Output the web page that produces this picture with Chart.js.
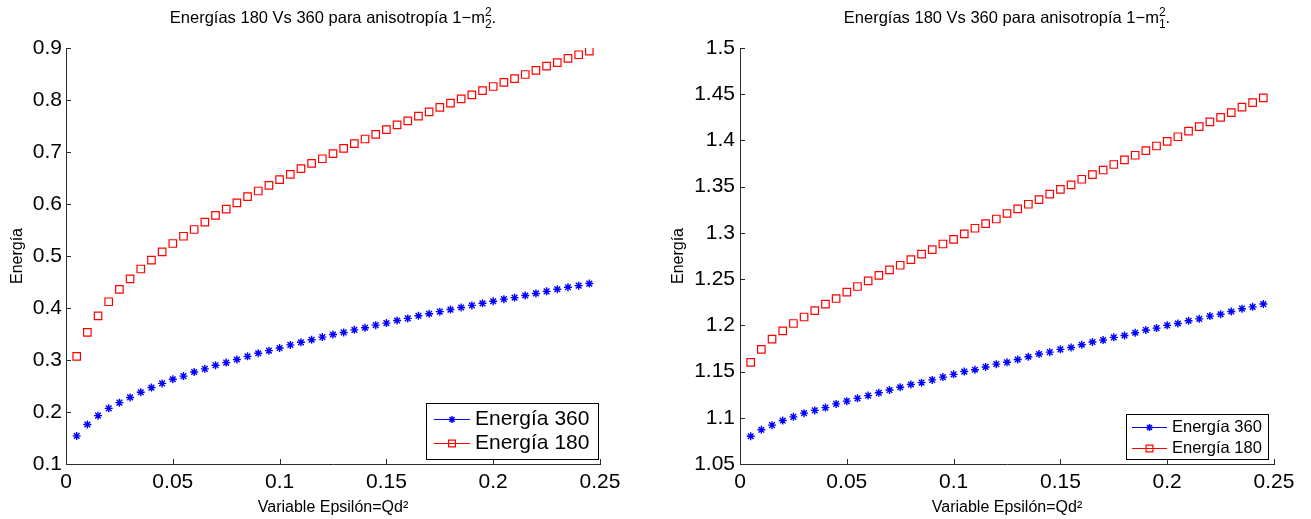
<!DOCTYPE html>
<html>
<head>
<meta charset="utf-8">
<script src="https://cdn.jsdelivr.net/npm/chart.js@4.4.0/dist/chart.umd.min.js"></script>
<style>
  html, body { margin: 0; padding: 0; background: #fff; }
  body { width: 1311px; height: 519px; position: relative; overflow: hidden; }
  .panel { position: absolute; top: 0; height: 519px; }
  #left { left: 0; width: 660px; }
  #right { left: 660px; width: 651px; }
</style>
</head>
<body>
<div class="panel" id="left"><canvas id="c1"></canvas></div>
<div class="panel" id="right"><canvas id="c2"></canvas></div>
<script>
// Variable Epsilón = Qd^2
const epsilon = [0.005, 0.010, 0.015, 0.020, 0.025, 0.030, 0.035, 0.040, 0.045, 0.050,
  0.055, 0.060, 0.065, 0.070, 0.075, 0.080, 0.085, 0.090, 0.095, 0.100,
  0.105, 0.110, 0.115, 0.120, 0.125, 0.130, 0.135, 0.140, 0.145, 0.150,
  0.155, 0.160, 0.165, 0.170, 0.175, 0.180, 0.185, 0.190, 0.195, 0.200,
  0.205, 0.210, 0.215, 0.220, 0.225, 0.230, 0.235, 0.240, 0.245];

// anisotropia 1-m2^2 (left)
const e360_m2 = [0.154, 0.176, 0.193, 0.207, 0.218, 0.228, 0.238, 0.247, 0.255, 0.263,
  0.269, 0.277, 0.283, 0.290, 0.295, 0.301, 0.307, 0.313, 0.318, 0.323,
  0.329, 0.334, 0.339, 0.344, 0.349, 0.353, 0.358, 0.362, 0.367, 0.371,
  0.376, 0.380, 0.385, 0.389, 0.393, 0.397, 0.401, 0.405, 0.409, 0.413,
  0.417, 0.420, 0.424, 0.428, 0.432, 0.436, 0.440, 0.443, 0.447];
const e180_m2 = [0.307, 0.353, 0.385, 0.412, 0.436, 0.456, 0.475, 0.492, 0.508, 0.524,
  0.538, 0.551, 0.565, 0.578, 0.590, 0.602, 0.614, 0.625, 0.636, 0.647,
  0.657, 0.668, 0.678, 0.687, 0.697, 0.707, 0.716, 0.725, 0.734, 0.743,
  0.752, 0.760, 0.769, 0.777, 0.786, 0.794, 0.802, 0.810, 0.818, 0.826,
  0.834, 0.841, 0.849, 0.857, 0.865, 0.872, 0.880, 0.887, 0.894];

// anisotropia 1-m1^2 (right)
const e360_m1 = [1.080, 1.087, 1.092, 1.097, 1.101, 1.105, 1.108, 1.111, 1.115, 1.118,
  1.121, 1.124, 1.127, 1.130, 1.133, 1.136, 1.138, 1.141, 1.144, 1.147,
  1.150, 1.152, 1.155, 1.158, 1.160, 1.163, 1.166, 1.169, 1.171, 1.174,
  1.176, 1.179, 1.182, 1.184, 1.187, 1.189, 1.192, 1.195, 1.197, 1.200,
  1.202, 1.205, 1.207, 1.210, 1.212, 1.215, 1.218, 1.220, 1.223];
const e180_m1 = [1.160, 1.174, 1.185, 1.194, 1.202, 1.209, 1.216, 1.223, 1.229, 1.236,
  1.242, 1.248, 1.254, 1.260, 1.265, 1.271, 1.277, 1.282, 1.288, 1.293,
  1.299, 1.305, 1.310, 1.315, 1.321, 1.326, 1.331, 1.336, 1.342, 1.347,
  1.352, 1.358, 1.363, 1.368, 1.374, 1.379, 1.384, 1.389, 1.394, 1.399,
  1.404, 1.410, 1.415, 1.420, 1.425, 1.430, 1.436, 1.441, 1.446];

const seriesNames = ['Energía 360', 'Energía 180'];

const xTicks = [0, 0.05, 0.1, 0.15, 0.2, 0.25];
const xTickLabels = ['0', '0.05', '0.1', '0.15', '0.2', '0.25'];
const yTicksLeft = [0.1, 0.2, 0.3, 0.4, 0.5, 0.6, 0.7, 0.8, 0.9];
const yTickLabelsLeft = ['0.1', '0.2', '0.3', '0.4', '0.5', '0.6', '0.7', '0.8', '0.9'];
const yTicksRight = [1.05, 1.1, 1.15, 1.2, 1.25, 1.3, 1.35, 1.4, 1.45, 1.5];
const yTickLabelsRight = ['1.05', '1.1', '1.15', '1.2', '1.25', '1.3', '1.35', '1.4', '1.45', '1.5'];

const FONT = '"Liberation Sans", Arial, Helvetica, sans-serif';
const AXIS = '#2b2b2b';
Chart.defaults.font.family = FONT;
Chart.defaults.color = '#000';

// matlab style ticks, pointing into the plot
const inwardTicks = {
  id: 'inwardTicks',
  afterDatasetsDraw(chart, args, o) {
    const { ctx, chartArea: a } = chart;
    const sx = chart.scales.x, sy = chart.scales.y;
    ctx.save();
    ctx.strokeStyle = AXIS;
    ctx.lineWidth = 1;
    ctx.beginPath();
    sx.ticks.forEach(t => {
      const px = Math.round(sx.getPixelForValue(t.value)) + 0.5;
      ctx.moveTo(px, a.bottom);
      ctx.lineTo(px, a.bottom - o.length);
    });
    sy.ticks.forEach(t => {
      const py = Math.round(sy.getPixelForValue(t.value)) + 0.5;
      ctx.moveTo(a.left, py);
      ctx.lineTo(a.left + o.length, py);
    });
    ctx.stroke();
    ctx.restore();
  }
};

// title with stacked super/subscript
const scriptTitle = {
  id: 'scriptTitle',
  afterDraw(chart, args, o) {
    const { ctx, chartArea: a } = chart;
    const big = o.size + 'px ' + FONT, small = o.small + 'px ' + FONT;
    ctx.save();
    ctx.fillStyle = '#000';
    ctx.textAlign = 'left';
    ctx.textBaseline = 'alphabetic';
    ctx.font = big;
    const w1 = ctx.measureText(o.text).width;
    const w3 = ctx.measureText(o.after).width;
    ctx.font = small;
    const w2 = Math.max(ctx.measureText(o.sup).width, ctx.measureText(o.sub).width);
    let x = (a.left + a.right) / 2 - (w1 + w2 + w3) / 2;
    ctx.font = big;
    ctx.fillText(o.text, x, o.y);
    x += w1;
    ctx.font = small;
    ctx.fillText(o.sup, x, o.y - o.size * 0.42);
    ctx.fillText(o.sub, x, o.y + o.size * 0.32);
    x += w2;
    ctx.font = big;
    ctx.fillText(o.after, x, o.y);
    ctx.restore();
  }
};

// boxed legend in the lower right corner
const boxLegend = {
  id: 'boxLegend',
  afterDraw(chart, args, o) {
    const { ctx, chartArea: a } = chart;
    const left = Math.round(a.right - o.right - o.width);
    const top = Math.round(a.bottom - o.bottom - o.height);
    ctx.save();
    ctx.fillStyle = '#fff';
    ctx.fillRect(left, top, o.width, o.height);
    ctx.strokeStyle = '#000';
    ctx.lineWidth = 1;
    ctx.strokeRect(left + 0.5, top + 0.5, o.width, o.height);
    ctx.font = o.fontSize + 'px ' + FONT;
    chart.data.datasets.forEach((ds, i) => {
      const cy = Math.round(top + o.rowTop + i * o.rowGap) + 0.5;
      ctx.strokeStyle = ds.borderColor;
      ctx.lineWidth = 1;
      ctx.beginPath();
      ctx.moveTo(left + o.lineStart, cy);
      ctx.lineTo(left + o.lineStart + o.lineLen, cy);
      ctx.stroke();
      ctx.fillStyle = ds.backgroundColor;
      ctx.lineWidth = ds.borderWidth;
      Chart.helpers.drawPoint(ctx, { pointStyle: ds.pointStyle, radius: ds.pointRadius - 0.5, borderWidth: ds.borderWidth, rotation: 0 },
        left + o.lineStart + o.lineLen / 2, cy);
      ctx.fillStyle = '#000';
      ctx.textAlign = 'left';
      ctx.textBaseline = 'middle';
      ctx.fillText(ds.label, left + o.textStart, cy);
    });
    ctx.restore();
  }
};

function makeChart(id, s360, s180, yMin, yMax, yTicks, yLabels, cfg) {
  return new Chart(document.getElementById(id), {
    type: 'scatter',
    data: {
      datasets: [
        {
          label: seriesNames[0],
          data: epsilon.map((x, i) => ({ x: x, y: s360[i] })),
          pointStyle: 'star',
          pointRadius: 4,
          borderWidth: 1.4,
          borderColor: '#0000ff',
          backgroundColor: 'rgba(0,0,0,0)',
          showLine: false
        },
        {
          label: seriesNames[1],
          data: epsilon.map((x, i) => ({ x: x, y: s180[i] })),
          pointStyle: 'rect',
          pointRadius: 5.3,
          borderWidth: 1.2,
          borderColor: '#ff0000',
          backgroundColor: 'rgba(0,0,0,0)',
          showLine: false
        }
      ]
    },
    options: {
      responsive: true,
      maintainAspectRatio: false,
      animation: false,
      devicePixelRatio: 1,
      layout: { padding: { top: 48, right: cfg.padRight, left: 0, bottom: 0 } },
      plugins: {
        legend: { display: false },
        tooltip: { enabled: false },
        inwardTicks: { length: 5 },
        scriptTitle: { text: 'Energías 180 Vs 360 para anisotropía 1\u2212m', sup: '2', sub: cfg.sub, after: '.',
          size: 16.5, small: 12, y: 23 },
        boxLegend: cfg.legend
      },
      scales: {
        x: {
          type: 'linear',
          min: 0, max: 0.25,
          afterFit: s => { s.height = 55; },
          afterBuildTicks: s => { s.ticks = xTicks.map(v => ({ value: v })); },
          grid: { display: false, drawTicks: false },
          border: { display: true, color: AXIS, width: 1 },
          ticks: { padding: 6, font: { size: 21 }, color: '#000', maxRotation: 0,
            callback: (v, i) => xTickLabels[i] },
          title: { display: true, text: 'Variable Epsilón=Qd²', font: { size: 16 }, color: '#000',
            padding: { top: 0, bottom: 2 } }
        },
        y: {
          type: 'linear',
          min: yMin, max: yMax,
          afterFit: s => { s.width = cfg.axisLeft; },
          afterBuildTicks: s => { s.ticks = yTicks.map(v => ({ value: v })); },
          grid: { display: false, drawTicks: false },
          border: { display: true, color: AXIS, width: 1 },
          ticks: { padding: cfg.tickPad, font: { size: 21 }, color: '#000',
            callback: (v, i) => yLabels[i] },
          title: { display: true, text: 'Energía', font: { size: 16 }, color: '#000',
            padding: { top: cfg.titlePad, bottom: 0 } }
        }
      }
    },
    plugins: [inwardTicks, scriptTitle, boxLegend]
  });
}

makeChart('c1', e360_m2, e180_m2, 0.1, 0.9, yTicksLeft, yTickLabelsLeft, {
  padRight: 60, axisLeft: 66, tickPad: 4, titlePad: 8, sub: '2',
  legend: { width: 172, height: 56, right: 2, bottom: 5, rowTop: 16, rowGap: 24,
    lineStart: 8, lineLen: 36, textStart: 49, fontSize: 21 }
});

makeChart('c2', e360_m1, e180_m1, 1.05, 1.5, yTicksRight, yTickLabelsRight, {
  padRight: 37, axisLeft: 80, tickPad: 5, titlePad: 9, sub: '1',
  legend: { width: 142, height: 45, right: 6, bottom: 5, rowTop: 13, rowGap: 20.5,
    lineStart: 6, lineLen: 35, textStart: 46, fontSize: 16.5 }
});
</script>
</body>
</html>
